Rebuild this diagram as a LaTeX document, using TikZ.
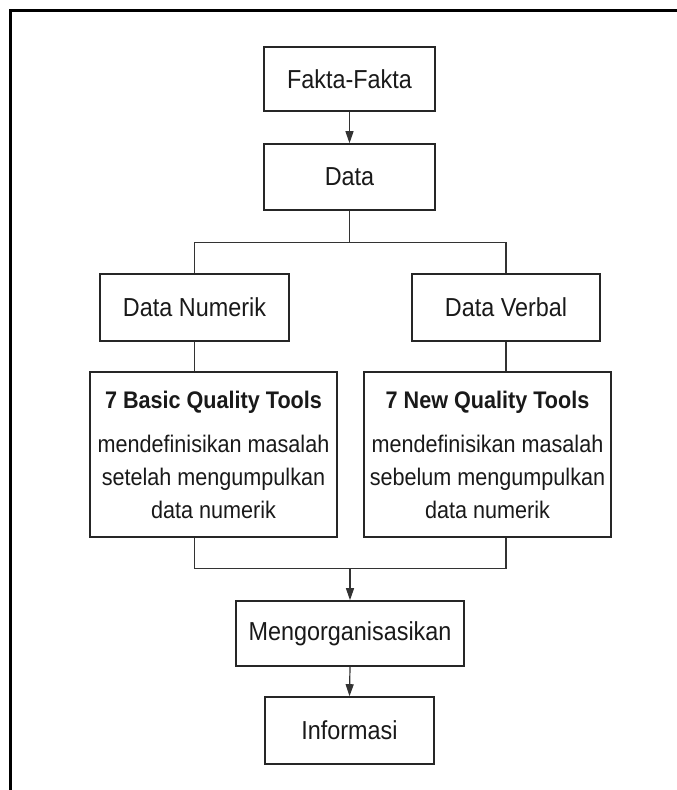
\documentclass[tikz,border=0pt]{standalone}
\usepackage{fontspec}
\setmainfont{Liberation Sans}[FakeStretch=0.9]
\usetikzlibrary{arrows.meta,calc}
\begin{document}
\begin{tikzpicture}[x=1pt,y=-1pt,
  box/.style={draw=black!85, line width=1.6pt, inner sep=0pt, font=\fontsize{26}{30}\selectfont, text=black!90},
  bigbox/.style={box, align=center, font=\fontsize{24}{33}\selectfont},
  conn/.style={draw=black!80, line width=1.2pt},
  arr/.style={conn, -{Triangle[length=12pt,width=8pt]}},
  frame/.style={draw=black, line width=2.8pt}]
\useasboundingbox (0,0) rectangle (677,790);
% outer frame (top and left edges)
\coordinate (ftl) at (10.5,10.3);
\coordinate (ftr) at (677,10.3);
\coordinate (fbl) at (10.5,790);
\draw[frame] (ftr) -- (ftl) -- (fbl);

\node[box, minimum width=171, minimum height=64] (fakta) at (349.5,79) {Fakta-Fakta};
\node[box, minimum width=171, minimum height=66] (data) at (349.5,177) {Data};
\node[box, minimum width=189, minimum height=67] (numerik) at (194.5,307.5) {Data Numerik};
\node[box, minimum width=188, minimum height=67] (verbal) at (506,307.5) {Data Verbal};
\node[bigbox, minimum width=247, minimum height=165] (basic) at (213.5,454.5)
  {{\fontsize{24}{28}\selectfont\bfseries 7 Basic Quality Tools}\\[11pt]
   mendefinisikan masalah\\setelah mengumpulkan\\data numerik};
\node[bigbox, minimum width=247, minimum height=165] (new) at (487.5,454.5)
  {{\fontsize{24}{28}\selectfont\bfseries 7 New Quality Tools}\\[11pt]
   mendefinisikan masalah\\sebelum mengumpulkan\\data numerik};
\node[box, minimum width=228, minimum height=65] (org) at (350,633.5) {Mengorganisasikan};
\node[box, minimum width=169, minimum height=67] (info) at (349.5,730.5) {Informasi};

\draw[arr] (fakta.south) -- (data.north);
\coordinate (split) at ($(data.south)+(0,32)$);
\draw[conn] (data.south) -- (split);
\draw[conn] (numerik.north) |- (split) -| (verbal.north);
\draw[conn] (numerik.south) -- (numerik.south |- basic.north);
\draw[conn] (verbal.south) -- (verbal.south |- new.north);
\coordinate (merge) at ($(org.north)+(0,-32)$);
\draw[conn] (numerik.south |- basic.south) |- (merge) -| (verbal.south |- new.south);
\draw[arr] (merge) -- (org.north);
\draw[arr] (org.south) -- (info.north);
\end{tikzpicture}
\end{document}
